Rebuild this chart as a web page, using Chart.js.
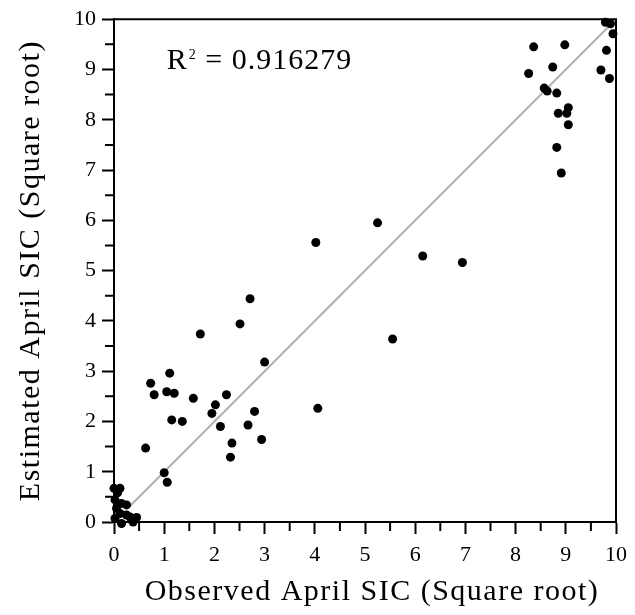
<!DOCTYPE html>
<html>
<head>
<meta charset="utf-8">
<script src="https://cdn.jsdelivr.net/npm/chart.js@4"></script>
<style>
html,body{margin:0;padding:0;background:#fff;}
#wrap{width:635px;height:615px;}
</style>
</head>
<body>
<div id="wrap"><canvas id="c" width="635" height="615"></canvas></div>
<script>
// ---- data ----
const observed = [
  0.00, 0.12, 0.07, 0.02, 0.15, 0.25, 0.05, 0.12, 0.25, 0.32, 0.45, 0.02, 0.38, 0.15, 0.00, -0.03,
  0.63, 1.00, 1.06, 0.73, 0.80, 1.05, 1.20, 1.11, 1.15, 1.36, 1.58, 1.72, 1.95, 2.02, 2.12, 2.24,
  2.32, 2.35, 2.51, 2.67, 2.71, 2.80, 2.94, 3.00,
  4.02, 4.06, 5.25, 5.55, 6.15, 6.94,
  8.26, 8.36, 8.57, 8.63, 8.74, 8.82, 8.82, 8.85, 8.91, 8.98, 9.02, 9.05, 9.05, 9.70, 9.81, 9.87,
  9.79, 9.89, 9.94
];
const estimated = [
  0.67, 0.67, 0.58, 0.44, 0.37, 0.34, 0.27, 0.17, 0.14, 0.10, 0.09, 0.07, 0.00, -0.03, -0.09, -0.19,
  1.47, 0.98, 0.79, 2.76, 2.53, 2.59, 2.56, 2.96, 2.03, 2.00, 2.46, 3.74, 2.16, 2.33, 1.90, 2.53,
  1.29, 1.57, 3.94, 1.93, 4.44, 2.20, 1.64, 3.18,
  5.56, 2.26, 5.95, 3.64, 5.29, 5.16,
  8.92, 9.45, 8.63, 8.57, 9.05, 8.53, 7.45, 8.13, 6.94, 9.49, 8.13, 8.24, 7.90, 8.99, 9.38, 8.82,
  9.94, 9.91, 9.71
];
const fitLineX = [0.28, 9.97];
const fitLineY = [0.28, 9.97];
const tickValues = [0, 1, 2, 3, 4, 5, 6, 7, 8, 9, 10];
const rSquared = '0.916279';
const xTitle = 'Observed April SIC (Square root)';
const yTitle = 'Estimated April SIC (Square root)';

const FONT = "'Liberation Serif', 'Times New Roman', serif";

const points = observed.map((x, i) => ({x: x, y: estimated[i]}));
const line = fitLineX.map((x, i) => ({x: x, y: fitLineY[i]}));

// frame, minor ticks, axis titles and R² annotation
const decor = {
  id: 'decor',
  afterDraw(chart) {
    const ctx = chart.ctx;
    const a = chart.chartArea;
    const xs = chart.scales.x, ys = chart.scales.y;
    ctx.save();
    ctx.strokeStyle = '#000';
    ctx.lineWidth = 2;
    ctx.beginPath();
    ctx.moveTo(a.left, a.top); ctx.lineTo(a.right, a.top); ctx.lineTo(a.right, a.bottom);
    ctx.stroke();
    // minor ticks
    ctx.beginPath();
    for (let v = 0.5; v < 10; v += 1) {
      const px = xs.getPixelForValue(v);
      ctx.moveTo(px, a.bottom); ctx.lineTo(px, a.bottom + 9);
      const py = ys.getPixelForValue(v);
      ctx.moveTo(a.left, py); ctx.lineTo(a.left - 9, py);
    }
    ctx.stroke();
    ctx.fillStyle = '#000';
    // axis titles
    ctx.font = '30px ' + FONT;
    if ('letterSpacing' in ctx) ctx.letterSpacing = '1.5px';
    ctx.textAlign = 'center';
    ctx.textBaseline = 'middle';
    ctx.fillText(xTitle, (a.left + a.right) / 2 + 7, 592);
    ctx.save();
    ctx.translate(31, (a.top + a.bottom) / 2);
    ctx.rotate(-Math.PI / 2);
    ctx.fillText(yTitle, 0, 0);
    ctx.restore();
    // R² label
    ctx.textBaseline = 'alphabetic';
    ctx.textAlign = 'left';
    if ('letterSpacing' in ctx) ctx.letterSpacing = '1px';
    const x0 = xs.getPixelForValue(1.05), y0 = ys.getPixelForValue(9.0);
    ctx.font = '30px ' + FONT;
    ctx.fillText('R', x0, y0);
    let w = ctx.measureText('R').width;
    ctx.font = '14px ' + FONT;
    ctx.fillText('2', x0 + w + 1, y0 - 10);
    w += ctx.measureText('2').width + 1;
    ctx.font = '30px ' + FONT;
    ctx.fillText(' = ' + rSquared, x0 + w, y0);
    ctx.restore();
  }
};

new Chart(document.getElementById('c'), {
  type: 'scatter',
  data: {
    datasets: [
      {
        data: points,
        backgroundColor: '#000',
        borderColor: '#000',
        pointRadius: 4.5,
        pointHoverRadius: 4.5,
        borderWidth: 0,
        clip: false
      },
      {
        data: line,
        showLine: true,
        borderColor: '#b0b0b0',
        borderWidth: 2,
        pointRadius: 0,
        fill: false
      }
    ]
  },
  options: {
    responsive: false,
    animation: false,
    events: [],
    layout: {padding: {top: 18, right: 16, left: 0, bottom: 0}},
    plugins: {legend: {display: false}, tooltip: {enabled: false}},
    scales: {
      x: {
        type: 'linear', min: 0, max: 10,
        afterBuildTicks(s) { s.ticks = tickValues.map(v => ({value: v})); },
        afterFit(s) { s.height = 93; },
        border: {color: '#000', width: 2},
        grid: {drawOnChartArea: false, drawTicks: true, tickLength: 12, tickColor: '#000', tickWidth: 2, color: '#000'},
        ticks: {color: '#000', font: {family: FONT, size: 22}, padding: 8, maxRotation: 0, autoSkip: false},
        title: {display: false}
      },
      y: {
        type: 'linear', min: 0, max: 10,
        afterBuildTicks(s) { s.ticks = tickValues.map(v => ({value: v})); },
        afterFit(s) { s.width = 114; },
        border: {color: '#000', width: 2},
        grid: {drawOnChartArea: false, drawTicks: true, tickLength: 12, tickColor: '#000', tickWidth: 2, color: '#000'},
        ticks: {color: '#000', font: {family: FONT, size: 22}, padding: 6, autoSkip: false},
        title: {display: false}
      }
    }
  },
  plugins: [decor]
});
</script>
</body>
</html>
